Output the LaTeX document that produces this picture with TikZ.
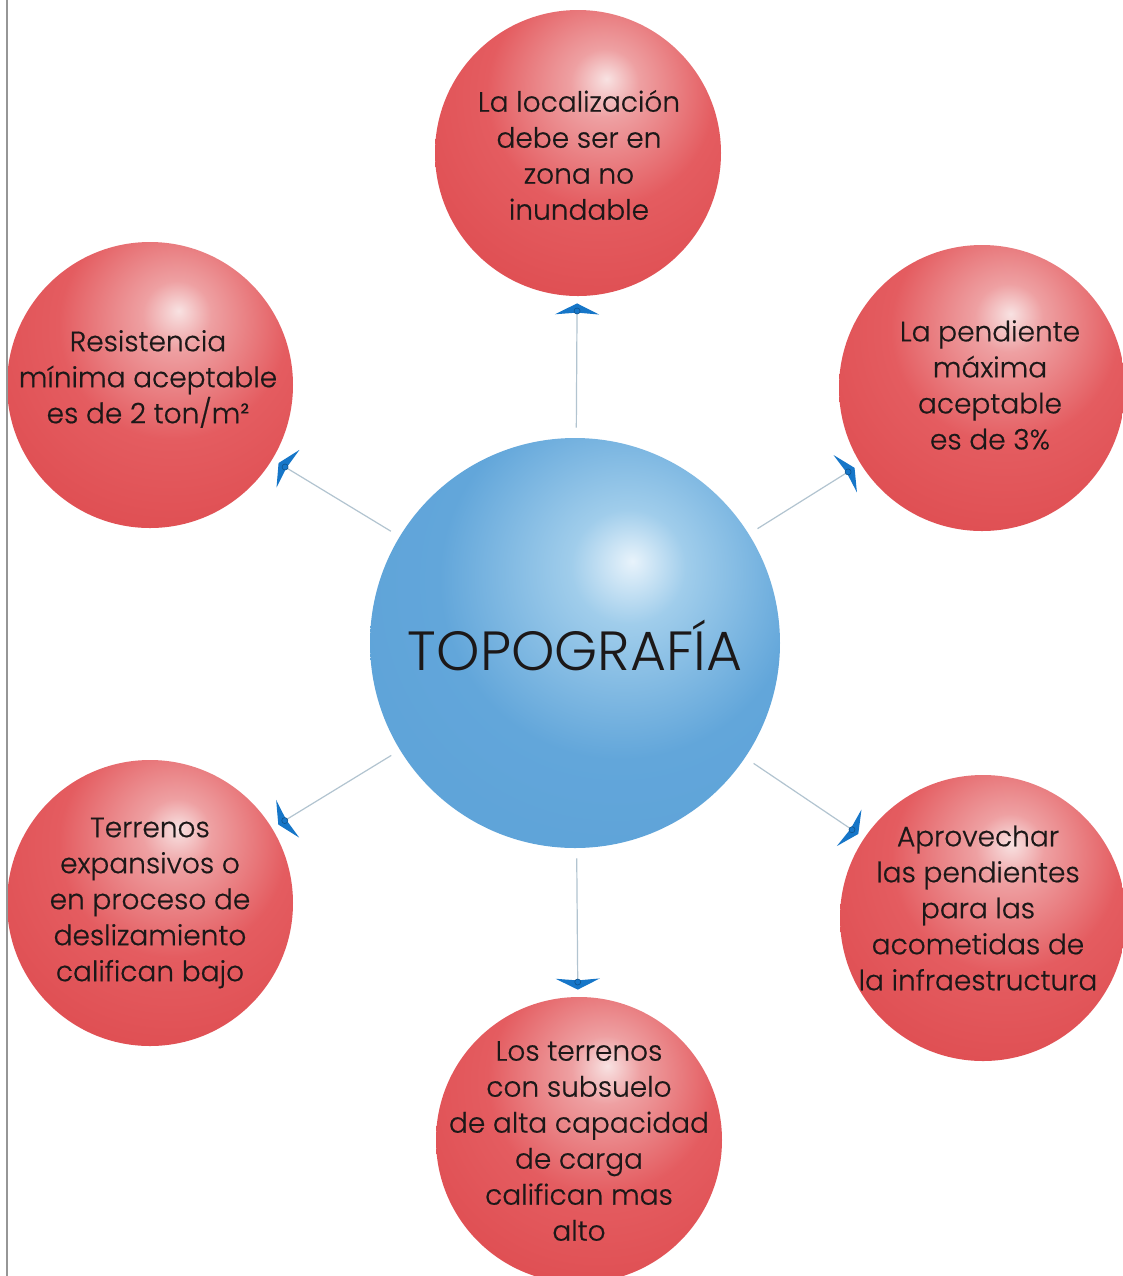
\documentclass[tikz,border=0pt]{standalone}
\usepackage{fontspec}
\setmainfont{Poppins Light}
\newfontfamily\bodyfont{Poppins Light}[BoldFont={Poppins Light},BoldFeatures={FakeBold=0.6}]
\usetikzlibrary{arrows.meta,calc}
\definecolor{txtc}{RGB}{28,24,24}
\definecolor{rhl}{RGB}{248,226,226}
\definecolor{rlt}{RGB}{238,160,162}
\definecolor{rmain}{RGB}{228,92,96}
\definecolor{rmid}{RGB}{220,70,74}
\definecolor{redge}{RGB}{206,46,52}
\definecolor{bhl}{RGB}{232,243,251}
\definecolor{blt}{RGB}{160,205,235}
\definecolor{bmain}{RGB}{98,166,218}
\definecolor{bedge}{RGB}{52,132,202}
\definecolor{linec}{RGB}{178,196,208}
\definecolor{tipc}{RGB}{22,118,200}
\definecolor{framec}{RGB}{150,150,150}
\pgfdeclareradialshading{redballsh}{\pgfpoint{5bp}{13bp}}{%
color(0bp)=(rhl); color(6bp)=(rlt); color(20bp)=(rmain); color(45bp)=(rmid); color(62bp)=(redge); color(100bp)=(redge)}
\pgfdeclareradialshading{blueballsh}{\pgfpoint{7bp}{10bp}}{%
color(0bp)=(bhl); color(7bp)=(blt); color(22bp)=(bmain); color(45bp)=(bmain!85!bedge); color(62bp)=(bedge); color(100bp)=(bedge)}
\tikzset{
  redball/.style={circle, minimum size=143pt, inner sep=0pt, shade, shading=redballsh},
  redtext/.style={align=center, text=txtc, inner sep=0pt, font=\fontsize{14}{18}\bodyfont\bfseries},
  blueball/.style={circle, minimum size=205pt, inner sep=0pt, shade, shading=blueballsh},
  bluetext/.style={text=txtc, inner sep=0pt, font=\fontsize{27.6}{30}\selectfont},
  conn/.style={draw=linec, line width=0.6pt, shorten <=5pt, shorten >=3.5pt,
    -{Stealth[length=5.5pt, width=22pt, inset=0.9pt, color=tipc, fill=tipc]}},
  dotst/.style={circle, fill=tipc, draw=tipc!70!black, line width=0.3pt, minimum size=3pt, inner sep=0pt}
}
\begin{document}
\begin{tikzpicture}[x=0.5pt, y=-0.5pt]
\useasboundingbox (0,0) rectangle (1123,1276);
\fill[white] (0,0) rectangle (1123,1276);

\node[blueball] (topo) at (575,643) {};
\node[bluetext] (tt) at (575,645) {TOPOGRAFÍA};

\node[redball] (n1) at (578,153) {};
\node[redball] (n2) at (150,385) {};
\node[redball] (n3) at (982,388) {};
\node[redball] (n4) at (150,903) {};
\node[redball] (n5) at (983,918) {};
\node[redball] (n6) at (579,1140) {};

\node[redtext] (t1) at (579,155) {La localización\\debe ser en\\zona no\\inundable};
\node[redtext] (t2) at (148,379) {Resistencia\\mínima aceptable\\es de 2 ton/m²};
\node[redtext] (t3) at (990,385) {La pendiente\\máxima\\aceptable\\es de 3\%};
\node[redtext] (t4) at (150,903) {Terrenos\\expansivos o\\en proceso de\\deslizamiento\\califican bajo};
\node[redtext] (t5) at (978,908) {Aprovechar\\las pendientes\\para las\\acometidas de\\la infraestructura};
\node[redtext] (t6) at (579,1141) {Los terrenos\\con subsuelo\\de alta capacidad\\de carga\\califican mas\\alto};

\foreach \n in {n1,n2,n3,n4,n5,n6}{
  \draw[conn] (topo) -- (\n);
  \node[dotst] at ($(\n)!79pt!(topo)$) {};
}

\draw[framec, line width=0.8pt] (7,0) -- (7,1276);
\end{tikzpicture}
\end{document}
